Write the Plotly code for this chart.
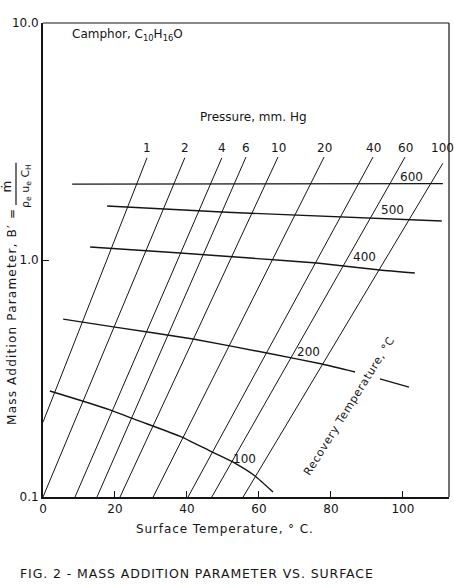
import math
import plotly.graph_objects as go

# ---- data ----
pressure_labels = ["1", "2", "4", "6", "10", "20", "40", "60", "100"]
p_bottom_T = [0.0, 0.0, 8.9, 15.0, 21.4, 30.6, 40.3, 46.9, 55.6]
p_bottom_B = [0.207, 0.1, 0.1, 0.1, 0.1, 0.1, 0.1, 0.1, 0.1]
p_top_T = [28.9, 39.4, 49.7, 56.4, 65.3, 78.1, 91.7, 100.6, 111.1]
p_top_B = [2.70, 2.70, 2.70, 2.72, 2.72, 2.72, 2.72, 2.72, 2.56]

T600 = [8.1, 111.1]
B600 = [2.09, 2.10]
T500 = [17.8, 51.1, 110.8]
B500 = [1.69, 1.59, 1.46]
T400 = [13.1, 38.1, 57.5, 76.1, 93.6, 103.3]
B400 = [1.135, 1.070, 1.019, 0.971, 0.907, 0.881]
T200 = [5.6, 20.0, 41.7, 62.2, 77.5, 86.7]
B200 = [0.563, 0.521, 0.464, 0.405, 0.364, 0.337]
T200_tail = [93.6, 101.7]
B200_tail = [0.315, 0.291]
T100 = [1.9, 10.3, 18.6, 26.1, 38.6, 46.9, 53.3, 58.9, 63.9]
B100 = [0.280, 0.256, 0.233, 0.211, 0.179, 0.155, 0.139, 0.1227, 0.105]

recovery_labels = ["600", "500", "400", "200", "100"]
rec_label_T = [102.5, 97.2, 89.4, 73.9, 56.1]
rec_label_B = [2.24, 1.63, 1.03, 0.409, 0.1445]

x_ticks = [0, 20, 40, 60, 80, 100]
y_ticks = [0.1, 1.0, 10.0]
y_ticktext = ["0.1", "1.0", "10.0"]

FONT = "DejaVu Sans"
INK = "#151515"


def spaced(txt, px):
    return '<span style="letter-spacing:%spx">%s</span>' % (px, txt)


fig = go.Figure()

# iso-pressure lines
for lab, x0, y0, x1, y1 in zip(pressure_labels, p_bottom_T, p_bottom_B, p_top_T, p_top_B):
    fig.add_trace(go.Scatter(x=[x0, x1], y=[y0, y1], mode="lines",
                             line=dict(color=INK, width=1.0), hoverinfo="skip",
                             showlegend=False))

# recovery temperature curves
for xs, ys in [(T600, B600), (T500, B500), (T400, B400), (T200, B200),
               (T200_tail, B200_tail), (T100, B100)]:
    fig.add_trace(go.Scatter(x=xs, y=ys, mode="lines",
                             line=dict(color=INK, width=1.4, shape="spline", smoothing=0.5),
                             hoverinfo="skip", showlegend=False))

base = dict(showarrow=False, xanchor="center", yanchor="middle")
ann = []
# pressure labels
for lab, x in zip(pressure_labels, p_top_T):
    ann.append(dict(base, x=x, y=0.473, xref="x", yref="y", text=lab,
                    font=dict(size=12, family=FONT, color=INK)))
# recovery labels
for lab, x, y in zip(recovery_labels, rec_label_T, rec_label_B):
    ann.append(dict(base, x=x, y=math.log10(y), xref="x", yref="y", text=lab,
                    font=dict(size=12, family=FONT, color=INK)))

ann += [
    dict(base, x=7.5, y=0.949, xref="x", yref="y", xanchor="left",
         text="Camphor, C<sub>10</sub>H<sub>16</sub>O",
         font=dict(size=12, family=FONT, color=INK)),
    dict(base, x=58.6, y=0.603, xref="x", yref="y", text="Pressure, mm. Hg",
         font=dict(size=12, family=FONT, color=INK)),
    dict(base, x=0.756, y=0.192, xref="paper", yref="paper",
         text=spaced("Recovery Temperature, °C", 0.7),
         textangle=-58, font=dict(size=11, family=FONT, color=INK)),
    # y-axis title pieces
    dict(base, x=-0.0764, y=0.382, xref="paper", yref="paper",
         text=spaced("Mass Addition Parameter, B′ =", 1.2),
         textangle=-90, font=dict(size=12, family=FONT, color=INK)),
    dict(base, x=-0.091, y=0.655, xref="paper", yref="paper", text="ṁ",
         textangle=-90, font=dict(size=12, family=FONT, color=INK)),
    dict(base, x=-0.042, y=0.656, xref="paper", yref="paper",
         text="ρ<sub>e</sub> u<sub>e</sub> C<sub>H</sub>",
         textangle=-90, font=dict(size=11, family=FONT, color=INK)),
    # x title
    dict(base, x=0.448, y=-0.0675, xref="paper", yref="paper",
         text=spaced("Surface Temperature, ° C.", 0.9),
         font=dict(size=12, family=FONT, color=INK)),
    # caption
    dict(base, x=0.379, y=-0.162, xref="paper", yref="paper",
         text=spaced("FIG. 2 - MASS ADDITION PARAMETER VS. SURFACE", 0.9),
         font=dict(size=12.5, family=FONT, color=INK)),
]

shapes = [
    dict(type="line", xref="paper", yref="paper", x0=0, y0=1, x1=1, y1=1,
         line=dict(color=INK, width=1.2)),
    dict(type="line", xref="paper", yref="paper", x0=1, y0=1, x1=1, y1=0,
         line=dict(color=INK, width=1.2)),
    dict(type="line", xref="paper", yref="paper", x0=-0.0665, y0=0.616, x1=-0.0665, y1=0.705,
         line=dict(color=INK, width=1.2)),
]

fig.update_layout(
    width=454, height=588,
    margin=dict(l=43, r=5, t=23, b=91),
    paper_bgcolor="white", plot_bgcolor="white",
    font=dict(family=FONT, color=INK, size=12),
    annotations=ann, shapes=shapes,
    xaxis=dict(range=[0, 112.8], showline=True, linewidth=2, linecolor=INK,
               ticks="inside", ticklen=6, tickwidth=1.3, tickcolor=INK,
               tickvals=x_ticks, showgrid=False, zeroline=False,
               tickfont=dict(size=12, family=FONT, color=INK)),
    yaxis=dict(type="log", range=[-1, 1], showline=True, linewidth=2, linecolor=INK,
               ticks="inside", ticklen=6, tickwidth=1.3, tickcolor=INK,
               tickvals=y_ticks, ticktext=y_ticktext, showgrid=False, zeroline=False,
               tickfont=dict(size=12, family=FONT, color=INK)),
)

fig.write_html("out.html")
